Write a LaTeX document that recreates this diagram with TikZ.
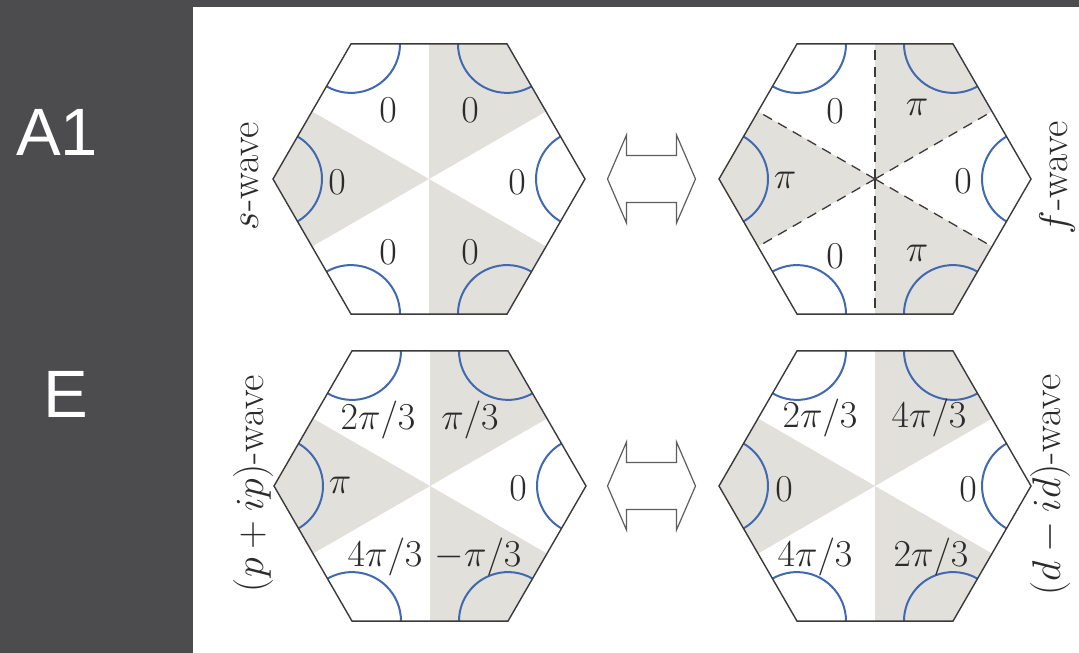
\RequirePackage{fix-cm}
\documentclass[tikz,border=0pt]{standalone}
\usepackage{fontspec}
\newfontfamily\panelfont{Liberation Sans}
\usetikzlibrary{calc}

\definecolor{panel}{HTML}{4C4C4E}
\definecolor{sector}{HTML}{E2E0DB}
\definecolor{fermi}{HTML}{4169B0}
\definecolor{edge}{HTML}{3A3A3A}
\definecolor{ink}{HTML}{2B2B2B}
\definecolor{swapline}{HTML}{5E5E5E}

\tikzset{
  hexedge/.style={draw=edge, line width=1.4pt, line join=miter},
  fermiarc/.style={draw=fermi, line width=2pt},
  phase/.style={font=\fontsize{38}{44}\selectfont, text=ink, inner sep=0pt},
  wavelabel/.style={font=\fontsize{40}{46}\selectfont, text=ink, rotate=90, anchor=base, inner sep=0pt},
  nodal/.style={draw=edge, line width=1.3pt, dash pattern=on 10pt off 7pt},
  swaparrow/.style={draw=swapline, line width=1.2pt, fill=white, line join=miter},
  grp/.style={font=\panelfont\fontsize{67}{72}\selectfont, text=white, inner sep=0pt}
}

% hexagonal zone with shaded sectors and Fermi pockets around the corners
\newcommand\brillouin[1]{%
  \begin{scope}[shift={(#1)}]
    \foreach \a in {30,150,270}
      \fill[sector] (0,0) -- (\a:135.1) -- (\a+30:156) -- (\a+60:135.1) -- cycle;
    \foreach \a in {0,60,...,300}
      \draw[fermiarc] (\a:156) ++(\a+120:49) arc[start angle=\a+120, end angle=\a+240, radius=49];
    \draw[hexedge] (0:156) -- (60:156) -- (120:156) -- (180:156) -- (240:156) -- (300:156) -- cycle;
  \end{scope}}

% hollow double arrow centred at a point
\newcommand\swapsign[1]{%
  \begin{scope}[shift={(#1)}]
    \draw[swaparrow] (-44,0) -- (-25,44) -- (-25,23.5) -- (25,23.5) -- (25,44) -- (44,0)
      -- (25,-44) -- (25,-23.5) -- (-25,-23.5) -- (-25,-44) -- cycle;
  \end{scope}}

\begin{document}
\begin{tikzpicture}[x=1pt,y=1pt]
\useasboundingbox (0,0) rectangle (1079,653);
\fill[white] (0,0) rectangle (1079,653);
\fill[panel] (0,0) rectangle (193,653);
\fill[panel] (0,646) rectangle (1079,653);

% irreducible representation labels
\node[grp] (repA) at (57,521) {A1};
\node[grp] (repE) at (66,259) {E};

% zone centres
\coordinate (hexS) at (429,474);
\coordinate (hexF) at (875,474);
\coordinate (hexP) at (430,167);
\coordinate (hexD) at (875,167);
\coordinate (swapTop) at (651.5,474);
\coordinate (swapBot) at (651.5,167);

\brillouin{hexS}
\brillouin{hexF}
\brillouin{hexP}
\brillouin{hexD}

% nodal lines of the f-wave state
\foreach \a in {30,90,...,330}
  \draw[nodal] (hexF) -- ++(\a:135.1);

\swapsign{swapTop}
\swapsign{swapBot}

% s-wave phases
\node[phase] (s1) at (388,543) {$0$};
\node[phase] (s2) at (470,543) {$0$};
\node[phase] (s3) at (337,471) {$0$};
\node[phase] (s4) at (517,471) {$0$};
\node[phase] (s5) at (388,400.5) {$0$};
\node[phase] (s6) at (470,400.5) {$0$};

% f-wave phases
\node[phase] (f1) at (835,541.7) {$0$};
\node[phase] (f2) at (917,545.5) {$\pi$};
\node[phase] (f3) at (785,473) {$\pi$};
\node[phase] (f4) at (963,471.5) {$0$};
\node[phase] (f5) at (835,397) {$0$};
\node[phase] (f6) at (917,399.5) {$\pi$};

% (p+ip)-wave phases
\node[phase, anchor=base] (p1) at (378,223) {$2\pi/3$};
\node[phase, anchor=base] (p2) at (470,223) {$\pi/3$};
\node[phase] (p3) at (340,168) {$\pi$};
\node[phase] (p4) at (518,164.5) {$0$};
\node[phase, anchor=base] (p5) at (385,86) {$4\pi/3$};
\node[phase, anchor=base] (p6) at (478,86) {$-\pi/3$};

% (d-id)-wave phases
\node[phase, anchor=base] (d1) at (820,225) {$2\pi/3$};
\node[phase, anchor=base] (d2) at (929,225) {$4\pi/3$};
\node[phase] (d3) at (784,164) {$0$};
\node[phase] (d4) at (968,164) {$0$};
\node[phase, anchor=base] (d5) at (815,86) {$4\pi/3$};
\node[phase, anchor=base] (d6) at (931,86) {$2\pi/3$};

% pairing-state names
\node[wavelabel] (nameS) at (258,477) {$s$-wave};
\node[wavelabel] (nameF) at (1067,475.5) {$f$-wave};
\node[wavelabel] (nameP) at (263,169.5) {$(p+ip)$-wave};
\node[wavelabel] (nameD) at (1060,168) {$(d-id)$-wave};
\end{tikzpicture}
\end{document}
